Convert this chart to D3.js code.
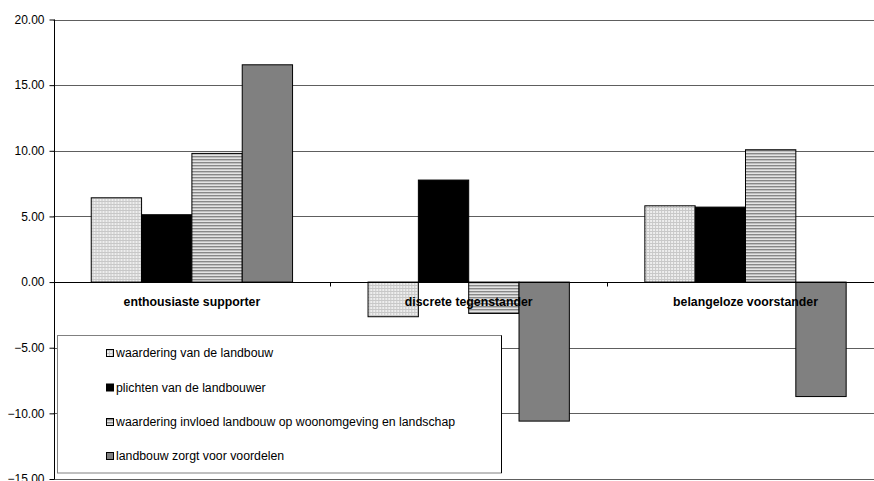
<!DOCTYPE html>
<html>
<head>
<meta charset="utf-8">
<script src="https://cdn.jsdelivr.net/npm/d3@7"></script>
<style>
  html, body { margin: 0; padding: 0; background: #fff; }
  svg { display: block; font-family: "Liberation Sans", Arial, sans-serif; }
</style>
</head>
<body>
<svg id="chart" width="874" height="481"></svg>
<script>
// Respondent segments along the category axis
const categories = ["enthousiaste supporter", "discrete tegenstander", "belangeloze voorstander"];

// Series names (legend order)
const seriesNames = [
  "waardering van de landbouw",
  "plichten van de landbouwer",
  "waardering invloed landbouw op woonomgeving en landschap",
  "landbouw zorgt voor voordelen"
];

// Scores per series, one value per segment
const waarderingLandbouw = [6.42, -2.64, 5.81];
const plichtenLandbouwer = [5.13, 7.77, 5.71];
const waarderingInvloed  = [9.80, -2.39, 10.08];
const zorgtVoorVoordelen = [16.55, -10.59, -8.72];

const seriesValues = [waarderingLandbouw, plichtenLandbouwer, waarderingInvloed, zorgtVoorVoordelen];

// Value axis ticks
const yTicks = [20, 15, 10, 5, 0, -5, -10, -15];

const svg = d3.select("#chart");

// Fill patterns for the bars
const defs = svg.append("defs");

const dots = defs.append("pattern")
  .attr("id", "pat-dots").attr("patternUnits", "userSpaceOnUse")
  .attr("width", 3).attr("height", 3);
dots.append("rect").attr("width", 3).attr("height", 3).attr("fill", "#eeeeee");
dots.append("rect").attr("width", 3).attr("height", 1).attr("fill", "#c8c8c8");
dots.append("rect").attr("width", 1).attr("height", 3).attr("fill", "#c8c8c8");

const stripes = defs.append("pattern")
  .attr("id", "pat-stripes").attr("patternUnits", "userSpaceOnUse")
  .attr("width", 4).attr("height", 3);
stripes.append("rect").attr("width", 4).attr("height", 3).attr("fill", "#e4e4e4");
stripes.append("rect").attr("width", 4).attr("height", 1.4).attr("fill", "#888888");

const fills = ["url(#pat-dots)", "#000000", "url(#pat-stripes)", "#808080"];

// Plot geometry
const plotLeft = 53.5, band = 276.8, plotTop = 19.5, plotBottom = 479;

const x = d3.scaleBand()
  .domain(categories)
  .range([plotLeft, plotLeft + band * categories.length])
  .paddingInner(0).paddingOuter(0);

const y = d3.scaleLinear().domain([-15, 20]).range([plotBottom, plotTop]);

// Bars within a category: gap width of 150% of one bar
const barW = x.bandwidth() / 5.5;
const x1 = d3.scaleBand()
  .domain(d3.range(seriesNames.length))
  .range([(x.bandwidth() - barW * 4) / 2, (x.bandwidth() + barW * 4) / 2])
  .padding(0);

// Horizontal gridlines
svg.append("g")
  .selectAll("line")
  .data(yTicks.filter(d => d !== 0))
  .join("line")
  .attr("x1", plotLeft).attr("x2", 874)
  .attr("y1", d => Math.round(y(d)) + 0.5).attr("y2", d => Math.round(y(d)) + 0.5)
  .attr("stroke", "#5e5e5e").attr("stroke-width", 1);

// Bars
const groups = svg.append("g")
  .selectAll("g")
  .data(categories)
  .join("g")
  .attr("transform", c => `translate(${x(c)},0)`);

groups.selectAll("rect")
  .data((c, ci) => seriesValues.map((vals, si) => ({ si, v: vals[ci] })))
  .join("rect")
  .attr("x", d => x1(d.si))
  .attr("width", x1.bandwidth())
  .attr("y", d => y(Math.max(0, d.v)))
  .attr("height", d => Math.abs(y(d.v) - y(0)))
  .attr("fill", d => fills[d.si])
  .attr("stroke", "#000").attr("stroke-width", 1);

// Zero line (category axis) with boundary tick marks
const zeroY = Math.round(y(0)) + 0.5;
svg.append("line")
  .attr("x1", plotLeft).attr("x2", 874)
  .attr("y1", zeroY).attr("y2", zeroY)
  .attr("stroke", "#000");
svg.append("g")
  .selectAll("line")
  .data(categories.slice(1))
  .join("line")
  .attr("x1", c => Math.round(x(c)) + 0.5).attr("x2", c => Math.round(x(c)) + 0.5)
  .attr("y1", zeroY).attr("y2", zeroY + 4)
  .attr("stroke", "#000");

// Category labels
svg.append("g")
  .selectAll("text")
  .data(categories)
  .join("text")
  .attr("x", c => x(c) + x.bandwidth() / 2)
  .attr("y", zeroY + 23)
  .attr("text-anchor", "middle")
  .attr("font-size", "12.3px")
  .attr("font-weight", "bold")
  .attr("fill", "#000")
  .text(c => c);

// Value axis
const yAxis = d3.axisLeft(y)
  .tickValues(yTicks)
  .tickFormat(d3.format(".2f"))
  .tickSize(5)
  .tickPadding(5);

const yAxisG = svg.append("g")
  .attr("transform", `translate(${Math.round(plotLeft) + 0.5},0)`)
  .call(yAxis);
yAxisG.select(".domain").attr("stroke", "#000").attr("d", `M0,${y(20)}V${y(-15)}`);
yAxisG.selectAll(".tick line").attr("stroke", "#000");
yAxisG.selectAll(".tick text")
  .attr("font-family", "Liberation Sans, Arial, sans-serif")
  .attr("font-size", "12px")
  .attr("fill", "#000");

// Legend
const legendX = 57.5, legendY = 335.5, legendW = 444, legendH = 137.5;
const legend = svg.append("g");
legend.append("rect")
  .attr("x", legendX).attr("y", legendY)
  .attr("width", legendW).attr("height", legendH)
  .attr("fill", "#fff").attr("stroke", "#808080");
legend.append("line")
  .attr("x1", legendX + legendW).attr("x2", legendX + legendW)
  .attr("y1", legendY).attr("y2", legendY + legendH)
  .attr("stroke", "#000");

const rowY = [353, 387.5, 422, 456];
const items = legend.selectAll("g.item")
  .data(seriesNames)
  .join("g")
  .attr("class", "item")
  .attr("transform", (d, i) => `translate(106,${rowY[i]})`);
items.append("rect")
  .attr("x", 0.5).attr("y", -3.5)
  .attr("width", 7).attr("height", 7)
  .attr("fill", (d, i) => fills[i])
  .attr("stroke", "#000");
items.append("text")
  .attr("x", 10).attr("y", 4.2)
  .attr("font-size", "12.3px")
  .attr("fill", "#000")
  .text(d => d);
</script>
</body>
</html>
